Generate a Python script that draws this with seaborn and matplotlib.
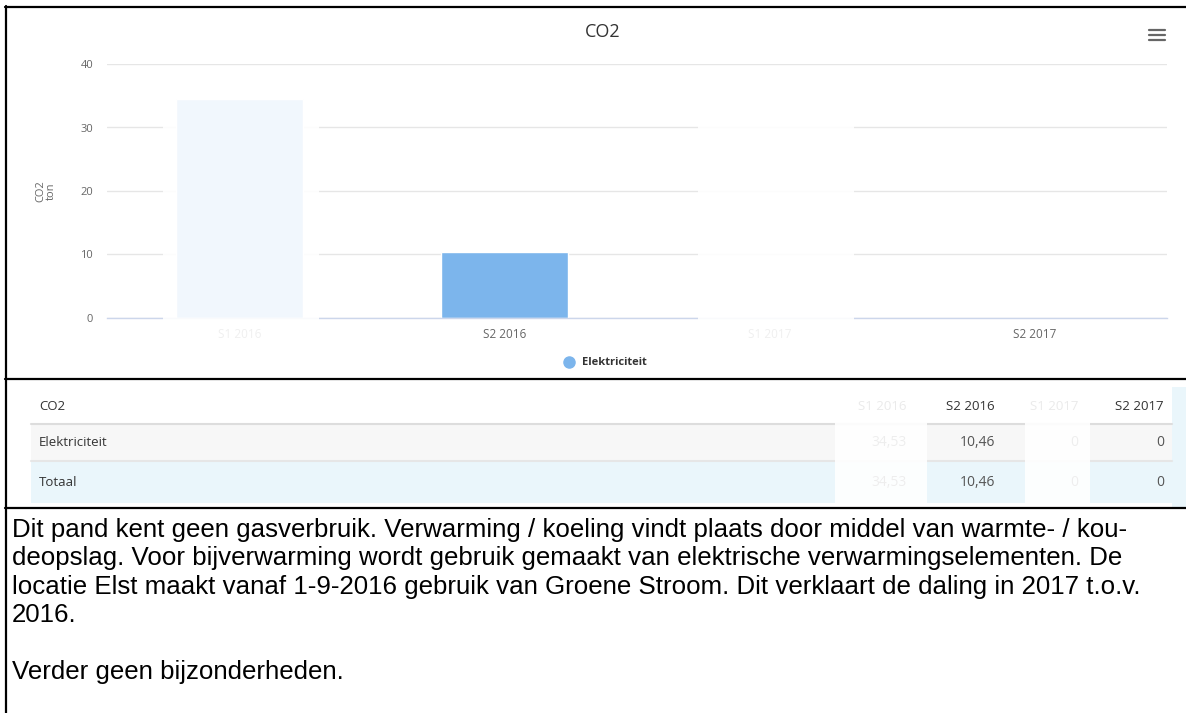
import numpy as np
import pandas as pd
import matplotlib
matplotlib.use("Agg")
import matplotlib.pyplot as plt
from matplotlib.patches import Rectangle
from matplotlib.lines import Line2D
import seaborn as sns

# data
periods = ["S1 2016", "S2 2016", "S1 2017", "S2 2017"]
elektriciteit = [34.53, 10.46, 0, 0]
totaal = [34.53, 10.46, 0, 0]
table_rows = ["Elektriciteit", "Totaal"]
y_ticks = [0, 10, 20, 30, 40]
note_lines = [
    "Dit pand kent geen gasverbruik. Verwarming / koeling vindt plaats door middel van warmte- / kou-",
    "deopslag. Voor bijverwarming wordt gebruik gemaakt van elektrische verwarmingselementen. De",
    "locatie Elst maakt vanaf 1-9-2016 gebruik van Groene Stroom. Dit verklaart de daling in 2017 t.o.v.",
    "2016.",
    "",
    "Verder geen bijzonderheden.",
]

W, H = 1186, 713
def fx(px):
    return px / W
def fy(py):
    return 1 - py / H

sns.set_theme(style="white")
plt.rcParams["font.family"] = ["Open Sans", "DejaVu Sans"]

fig = plt.figure(figsize=(W / 100, H / 100), dpi=100)
fig.patch.set_facecolor("white")

# ---------------- chart ----------------
ax = fig.add_axes([fx(107), fy(318), (1167 - 107) / W, (318 - 64) / H])
df = pd.DataFrame({"period": periods, "value": elektriciteit})
sns.barplot(data=df, x="period", y="value", order=periods, color="#7cb5ec",
            saturation=1, width=0.48, edgecolor="white", linewidth=1, ax=ax)
ax.set_xlim(-0.5, 3.5)
ax.set_ylim(0, 40)
ax.set_yticks(y_ticks)
ax.set_xlabel("")
ax.set_ylabel("")
ax.set_axisbelow(True)
ax.yaxis.grid(True, color="#e6e6e6", lw=1)
for s in ["top", "right", "left"]:
    ax.spines[s].set_visible(False)
ax.spines["bottom"].set_color("#ccd6eb")
ax.spines["bottom"].set_linewidth(1)
ax.set_xticks([-0.5, 0.5, 1.5, 2.5, 3.5], minor=True)
ax.tick_params(axis="x", which="major", length=0, pad=7, labelsize=8.5, labelcolor="#666666")
ax.tick_params(axis="x", which="minor", length=7, width=1, color="#ccd6eb", direction="out")
ax.tick_params(axis="y", length=0, pad=10, labelsize=8, labelcolor="#666666")

fig.text(fx(603), fy(32), "CO2", ha="center", va="center", fontsize=13, color="#333333")
fig.text(fx(46), fy(191), "CO2\nton", rotation=90, ha="center", va="center",
         multialignment="center", fontsize=8, color="#666666", linespacing=0.95)

# menu icon
for yy in [30, 35, 40]:
    fig.add_artist(Line2D([fx(1149), fx(1165)], [fy(yy), fy(yy)], color="#666666", lw=1.6,
                          transform=fig.transFigure))

# legend
handle = Line2D([], [], marker="o", ls="", color="#7cb5ec", markersize=8)
ax.legend([handle], ["Elektriciteit"], loc="center", bbox_to_anchor=(fx(602), fy(363)),
          bbox_transform=fig.transFigure, frameon=False, handletextpad=0.2,
          prop={"weight": "bold", "size": 8}, labelcolor="#333333")

# ---------------- table ----------------
tx0, tx1 = 31, 1172
col_right = [907, 995, 1078, 1164]
header_y, line1_y, row1_y, line2_y, row2_y, table_bottom = 407, 424, 443, 461, 482, 503

fig.add_artist(Rectangle((fx(tx0), fy(line2_y)), (tx1 - tx0) / W, (line2_y - line1_y) / H,
                         transform=fig.transFigure, facecolor="#f7f7f7", lw=0, zorder=1))
fig.add_artist(Rectangle((fx(tx0), fy(table_bottom)), (tx1 - tx0) / W, (table_bottom - line2_y) / H,
                         transform=fig.transFigure, facecolor="#eaf6fb", lw=0, zorder=1))
fig.add_artist(Rectangle((fx(tx1), fy(507)), (W - tx1) / W, (507 - 387) / H,
                         transform=fig.transFigure, facecolor="#eaf6fb", lw=0, zorder=1))
for yy, c in [(line1_y, "#dddddd"), (line2_y, "#e6e6e6")]:
    fig.add_artist(Line2D([fx(tx0), fx(tx1)], [fy(yy), fy(yy)], color=c, lw=1.5,
                          transform=fig.transFigure, zorder=2))

fig.text(fx(39), fy(header_y), "CO2", ha="left", va="center", fontsize=9.5, color="#333333", zorder=3)
for p, xr in zip(periods, col_right):
    fig.text(fx(xr), fy(header_y), p, ha="right", va="center", fontsize=9.5, color="#333333", zorder=3)

def fmt(v):
    return "0" if v == 0 else f"{v:.2f}".replace(".", ",")

for name, vals, yy in [(table_rows[0], elektriciteit, row1_y), (table_rows[1], totaal, row2_y)]:
    fig.text(fx(39), fy(yy), name, ha="left", va="center", fontsize=9.5, color="#333333", zorder=3)
    for v, xr in zip(vals, col_right):
        fig.text(fx(xr), fy(yy), fmt(v), ha="right", va="center", fontsize=10, color="#555555", zorder=3)

# faded columns (white veil over S1 columns, as in the screenshot)
for x0, x1, y0, y1 in [(163, 319, 85, 377), (698, 854, 85, 377), (835, 927, 383, 505), (1025, 1090, 383, 505)]:
    fig.add_artist(Rectangle((fx(x0), fy(y1)), (x1 - x0) / W, (y1 - y0) / H, transform=fig.transFigure,
                             facecolor="white", alpha=0.9, lw=0, zorder=20))

# ---------------- text block ----------------
for i, line in enumerate(note_lines):
    fig.text(fx(12), fy(530 + i * 28.4), line, ha="left", va="center", fontsize=18.6,
             family=["Liberation Sans", "DejaVu Sans"], color="black")

# frame lines
for (xa, xb, ya, yb) in [(5, W, 7, 7), (6, 6, 6, H), (5, W, 379, 379), (5, W, 508, 508)]:
    fig.add_artist(Line2D([fx(xa), fx(xb)], [fy(ya), fy(yb)], color="black", lw=1.6,
                          transform=fig.transFigure, zorder=30))

fig.savefig("out.png", dpi=100, facecolor="white")
